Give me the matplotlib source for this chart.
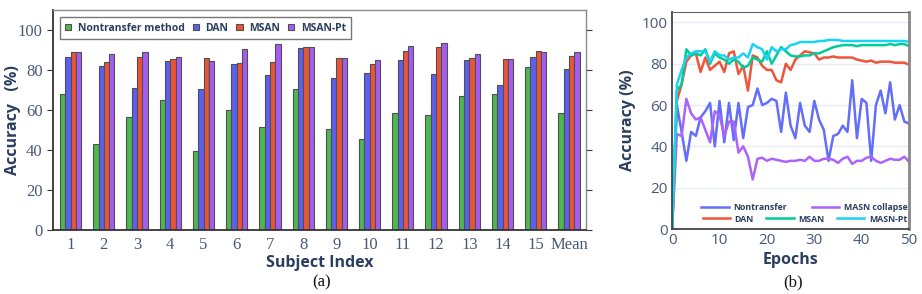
import matplotlib
matplotlib.use('Agg')
import matplotlib.pyplot as plt
import numpy as np
from matplotlib.patches import Patch

# ---- bar chart data (a) ----
subjects = ['1', '2', '3', '4', '5', '6', '7', '8', '9', '10', '11', '12', '13', '14', '15', 'Mean']
nontransfer = [67.9, 42.9, 56.3, 65.1, 39.4, 60.1, 51.3, 70.5, 50.6, 45.4, 58.6, 57.3, 66.8, 68.1, 81.6, 58.6]
dan = [86.6, 82.1, 71.1, 84.5, 70.5, 82.8, 77.6, 90.8, 76.1, 78.3, 85.1, 78.1, 85.1, 72.6, 86.3, 80.6]
msan = [89.1, 84.1, 86.5, 85.3, 86.0, 83.5, 83.8, 91.7, 85.8, 83.1, 89.3, 91.7, 86.1, 85.5, 89.5, 87.0]
msan_pt = [88.8, 88.0, 88.8, 86.5, 84.6, 90.5, 93.0, 91.3, 86.1, 84.8, 92.0, 93.7, 88.1, 85.5, 89.1, 88.8]

# ---- training curves data (b) ----
epochs = list(range(51))
curve_nontransfer = [0, 60, 47, 33, 47, 45, 54, 57, 61, 40, 62, 42, 61, 43, 61, 44, 59, 60, 68, 60,
                     61, 63, 62, 47, 66, 50, 44, 61, 50, 47, 62, 53, 48, 33, 45, 46, 50, 47, 72, 44,
                     63, 61, 33, 60, 67, 56, 71, 53, 60, 52, 51]
curve_collapse = [0, 46, 45, 63, 56, 53, 54, 48, 42, 57, 55, 45, 52, 52, 37, 40, 35, 24, 34, 34.5,
                  33, 34, 33.5, 33, 32.5, 33, 33, 33.5, 33, 35, 33, 33, 34, 34, 33.5, 32, 34, 35, 31.5, 33,
                  33, 34.5, 35, 33, 32, 33, 34, 33.5, 33.5, 35, 32.5]
curve_dan = [0, 62, 70, 81, 84, 85, 76, 83, 77, 79, 81, 76, 85, 86, 75, 79, 67, 84, 83, 79,
             77, 77, 72, 71, 80, 77, 82, 84, 86, 85.5, 85, 82, 83, 83, 83.5, 83, 83, 83, 83, 82,
             81.5, 81, 81.5, 80.5, 81, 81, 81, 80.5, 80.5, 80.5, 79.5]
curve_msan = [0, 67, 70, 87, 84, 85, 84, 87, 80, 85, 83, 82, 80, 82, 81, 78, 79, 83, 82, 81,
              86, 80, 84, 88, 86, 84, 83.5, 83.5, 84, 84, 85, 85, 86, 87, 88, 88.5, 89, 89, 89, 88.5,
              89, 89, 89, 89, 89, 89, 89.5, 89, 89.5, 89.5, 88.5]
curve_msan_pt = [0, 70, 77, 83, 85, 86, 86, 86, 81, 86, 84, 84, 82, 83, 83, 85, 83, 89.5, 88, 87,
                 82, 88, 86, 87, 87, 89, 89.5, 90.5, 90.5, 90.5, 90.5, 91, 91, 91.5, 91.5, 91.5, 91, 91, 91, 91,
                 91, 91, 91, 91, 91, 91, 91, 91, 91, 91, 90.5]

txt = '#2a3f5f'
tickc = '#4a5878'

fig = plt.figure(figsize=(9.22, 2.94), dpi=100)

# ================= (a) =================
ax1 = fig.add_axes([0.0575, 0.218, 0.578, 0.748])
x = np.arange(len(subjects))
w = 0.16
bar_colors = ['#4cb84f', '#5b5ff2', '#ea5538', '#a45cf2']
series = [nontransfer, dan, msan, msan_pt]
names = ['Nontransfer method', 'DAN', 'MSAN', 'MSAN-Pt']
for i, (vals, c) in enumerate(zip(series, bar_colors)):
    ax1.bar(x + (i - 1.5) * w, vals, w, color=c, edgecolor='#505050', linewidth=0.8, label=names[i])

ax1.set_xlim(-0.53, len(subjects) - 0.49)
ax1.set_ylim(0, 110)
ax1.set_yticks([0, 20, 40, 60, 80, 100])
ax1.set_xticks(x)
ax1.set_xticklabels(subjects)
for lab in ax1.get_xticklabels() + ax1.get_yticklabels():
    lab.set_family('Liberation Serif')
    lab.set_fontsize(12)
    lab.set_color(tickc)
ax1.tick_params(axis='x', length=0, pad=5)
ax1.tick_params(axis='y', direction='out', length=4, color='#333333', right=True)
for sp in ['left', 'bottom']:
    ax1.spines[sp].set_color('#333333')
    ax1.spines[sp].set_linewidth(1.3)
for sp in ['top', 'right']:
    ax1.spines[sp].set_color('#8a8a8a')
    ax1.spines[sp].set_linewidth(1.0)
ax1.set_ylabel('Accuracy   (%)', family='Open Sans', weight='bold', fontsize=11.5, color=txt)
ax1.yaxis.set_label_coords(-0.06, 0.5)
ax1.set_xlabel('Subject Index', family='Open Sans', weight='bold', fontsize=11.5, color=txt)
ax1.xaxis.set_label_coords(0.5, -0.115)

handles = [Patch(facecolor=c, edgecolor='#505050', linewidth=0.8) for c in bar_colors]
leg = ax1.legend(handles, names, loc='upper left', bbox_to_anchor=(0.003, 0.99), ncol=4,
                 handlelength=0.6, handleheight=0.6, handletextpad=0.6, columnspacing=0.8,
                 borderpad=0.5, fancybox=False, edgecolor='#555555',
                 prop={'family': 'Open Sans', 'weight': 'bold', 'size': 7.5})
leg.get_frame().set_linewidth(1.0)
for t in leg.get_texts():
    t.set_color(txt)

# ================= (b) =================
ax2 = fig.add_axes([0.729, 0.221, 0.257, 0.738])
lw = 1.8
l_nt, = ax2.plot(epochs, curve_nontransfer, color='#636efa', lw=lw)
l_col, = ax2.plot(epochs, curve_collapse, color='#ab63fa', lw=lw)
l_dan, = ax2.plot(epochs, curve_dan, color='#ef553b', lw=lw)
l_ms, = ax2.plot(epochs, curve_msan, color='#00cc96', lw=lw)
l_pt, = ax2.plot(epochs, curve_msan_pt, color='#19d3f3', lw=lw)
ax2.set_xlim(0, 50)
ax2.set_ylim(0, 105)
ax2.set_yticks([0, 20, 40, 60, 80, 100])
ax2.set_xticks([0, 10, 20, 30, 40, 50])
ax2.grid(axis='y', color='#e6ecf5', lw=1.0)
ax2.set_axisbelow(True)
for lab in ax2.get_xticklabels() + ax2.get_yticklabels():
    lab.set_family('Open Sans')
    lab.set_fontsize(11)
    lab.set_color(tickc)
ax2.tick_params(length=0, pad=3)
for sp in ['left', 'bottom']:
    ax2.spines[sp].set_color('#444444')
    ax2.spines[sp].set_linewidth(1.3)
ax2.spines['right'].set_color('#888888')
ax2.spines['right'].set_linewidth(2.0)
ax2.spines['top'].set_color('#666666')
ax2.spines['top'].set_linewidth(0.8)
ax2.set_ylabel('Accuracy (%)', family='Open Sans', weight='bold', fontsize=11.5, color=txt, labelpad=4)
ax2.set_xlabel('Epochs', family='Open Sans', weight='bold', fontsize=11.5, color=txt, labelpad=3)

# two-row legend, right aligned like the original
lprop = {'family': 'Open Sans', 'weight': 'bold', 'size': 6.3}
leg_a = ax2.legend([l_nt, l_col], ['Nontransfer', 'MASN collapse'], loc='center right',
                   bbox_to_anchor=(1.0, 0.101), ncol=2, frameon=False, handlelength=3.1,
                   handletextpad=0.55, columnspacing=2.8, borderpad=0.1, borderaxespad=0.1, prop=lprop)
for t in leg_a.get_texts():
    t.set_color(txt)
ax2.add_artist(leg_a)
leg_b = ax2.legend([l_dan, l_ms, l_pt], ['DAN', 'MSAN', 'MASN-Pt'], loc='center right',
                   bbox_to_anchor=(1.0, 0.046), ncol=3, frameon=False, handlelength=3.1,
                   handletextpad=0.55, columnspacing=1.45, borderpad=0.1, borderaxespad=0.1, prop=lprop)
for t in leg_b.get_texts():
    t.set_color(txt)

fig.text(0.349, 0.038, '(a)', family='Liberation Serif', fontsize=12, ha='center', va='center', color='#111111')
fig.text(0.860, 0.038, '(b)', family='Liberation Serif', fontsize=12, ha='center', va='center', color='#111111')

fig.savefig('out.png', dpi=100)
